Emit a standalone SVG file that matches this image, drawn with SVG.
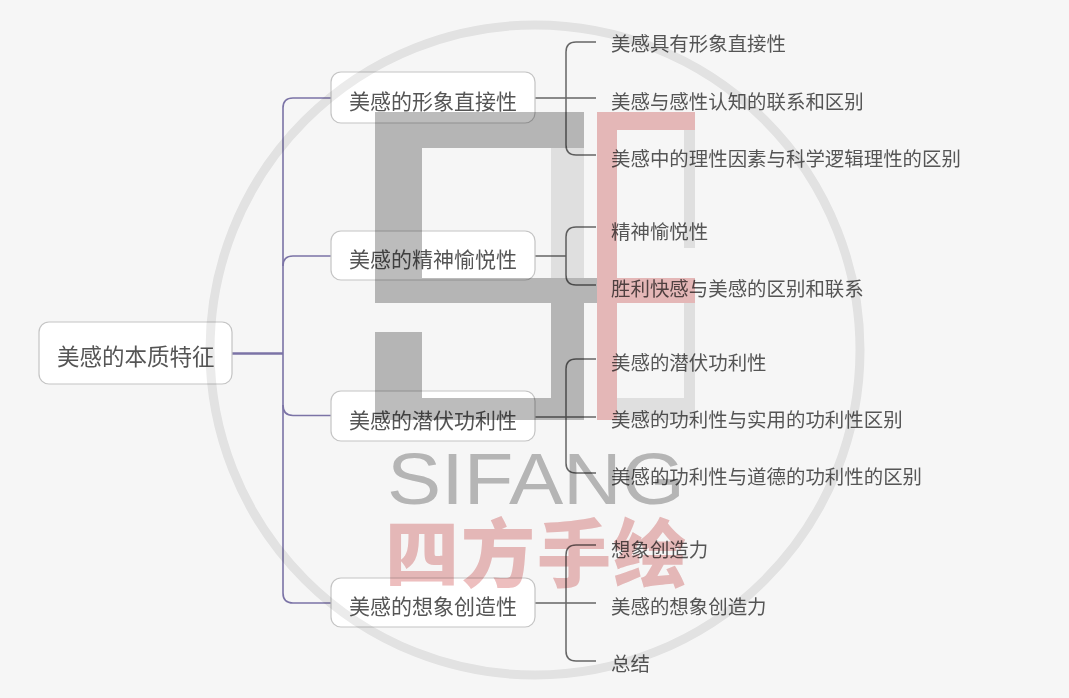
<svg xmlns="http://www.w3.org/2000/svg" width="1069" height="698" viewBox="0 0 1069 698">
<style>
text{font-family:"Noto Sans CJK SC","Liberation Sans",sans-serif;fill:#555}
.box{fill:#fff;stroke:#c4c4c4;stroke-width:1.2}
.root{font-size:22.5px}
.mid{font-size:21px}
.leaf{font-size:19.45px}
.c1{fill:none;stroke:#7b73a6;stroke-width:1.6}
.c2{fill:none;stroke:#666;stroke-width:1.5}
.wm{mix-blend-mode:multiply}
</style>
<rect width="1069" height="698" fill="#f6f6f6"/>
<g id="connectors">
<path class="c1" d="M232 353.500H283" style="stroke-width:2.500"/>
<path class="c1" d="M331 98H293Q283 98 283 108V593Q283 603 293 603H331"/>
<path class="c1" d="M331 256H293Q283 256 283 266"/>
<path class="c1" d="M331 415.500H293Q283 415.500 283 405"/>
<path class="c2" d="M535 98H596M596 42H576Q566 42 566 52V145Q566 155 576 155H596"/>
<path class="c2" d="M535 256H566M596 227H576Q566 227 566 237V275Q566 285 576 285H596"/>
<path class="c2" d="M535 417H596M596 359H576Q566 359 566 369V463Q566 473 576 473H596"/>
<path class="c2" d="M535 603H596M596 545H576Q566 545 566 555V651Q566 661 576 661H596"/>
</g>
<g id="root"><rect class="box" x="39" y="322" width="193" height="62" rx="10"/><text class="root" x="57" y="365">美感的本质特征</text></g>
<g id="n1"><rect class="box" x="331" y="72" width="204" height="51" rx="10"/><text class="mid" x="349" y="109">美感的形象直接性</text></g>
<g id="n2"><rect class="box" x="331" y="231" width="204" height="49" rx="10"/><text class="mid" x="349" y="267">美感的精神愉悦性</text></g>
<g id="n3"><rect class="box" x="331" y="391" width="204" height="50" rx="10"/><text class="mid" x="349" y="428">美感的潜伏功利性</text></g>
<g id="n4"><rect class="box" x="331" y="578" width="204" height="49" rx="10"/><text class="mid" x="349" y="614">美感的想象创造性</text></g>
<g id="l1"><text class="leaf" x="611" y="51">美感具有形象直接性</text></g>
<g id="l2"><text class="leaf" x="611" y="109">美感与感性认知的联系和区别</text></g>
<g id="l3"><text class="leaf" x="611" y="166">美感中的理性因素与科学逻辑理性的区别</text></g>
<g id="l4"><text class="leaf" x="611" y="239">精神愉悦性</text></g>
<g id="l5"><text class="leaf" x="611" y="296">胜利快感与美感的区别和联系</text></g>
<g id="l6"><text class="leaf" x="611" y="370">美感的潜伏功利性</text></g>
<g id="l7"><text class="leaf" x="611" y="427">美感的功利性与实用的功利性区别</text></g>
<g id="l8"><text class="leaf" x="611" y="484">美感的功利性与道德的功利性的区别</text></g>
<g id="l9"><text class="leaf" x="611" y="557">想象创造力</text></g>
<g id="l10"><text class="leaf" x="611" y="614">美感的想象创造力</text></g>
<g id="l11"><text class="leaf" x="611" y="671">总结</text></g>
<g id="watermark">
<circle class="wm" cx="535" cy="350" r="325" fill="none" stroke="#ebebeb" stroke-width="9"/>
<path class="wm" fill="#e8e8e8" d="M551 148H584V278H551ZM684 130H695V248H684ZM684 303H695V398H684ZM617 398H695V420H617Z"/>
<path class="wm" fill="#bcbcbc" d="M375 112H584V148H422V278H597V303H584V420H375V332H422V398H551V303H375Z"/>
<path class="wm" fill="#edbebe" d="M597 112H695V130H617V278H695V303H617V420H597Z"/>
<text class="wm" x="387" y="504" font-size="72" textLength="298" lengthAdjust="spacingAndGlyphs" style="font-family:'Liberation Sans',sans-serif;fill:#bcbcbc">SIFANG</text>
<text class="wm" x="385" y="581" font-size="74" letter-spacing="2" font-weight="900" style="fill:#edbebe">四方手绘</text>
</g>
</svg>
